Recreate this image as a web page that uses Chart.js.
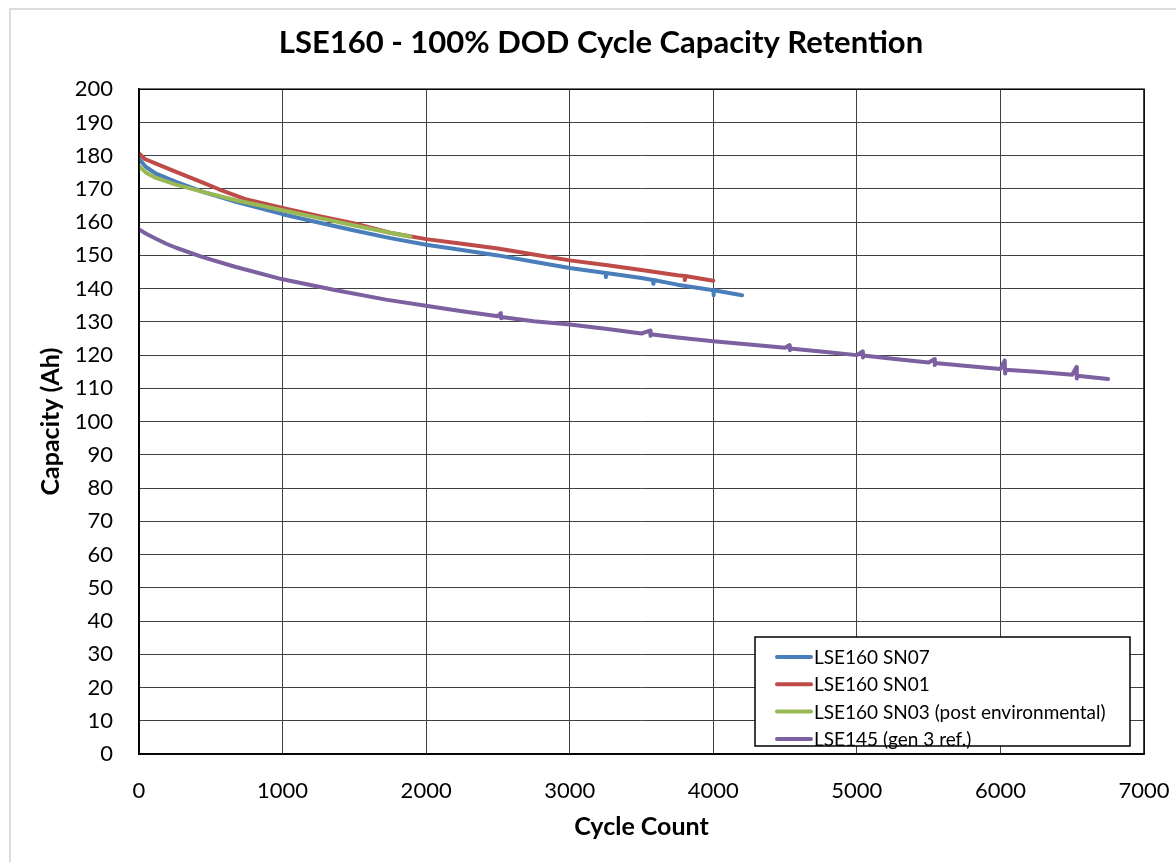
<!DOCTYPE html>
<html>
<head>
<meta charset="utf-8">
<script src="https://cdn.jsdelivr.net/npm/chart.js@4/dist/chart.umd.min.js"></script>
<style>
  html, body { margin: 0; padding: 0; background: #fff; }
  #wrap { position: relative; width: 1176px; height: 862px; }
  #frame { position: absolute; left: 9px; top: 8px; right: -4px; bottom: -4px; border-left: 2px solid #dcdcdc; border-top: 2px solid #dcdcdc; pointer-events: none; }
  canvas { position: absolute; left: 0; top: 0; }
</style>
</head>
<body>
<div id="wrap">
  <canvas id="c" width="1176" height="862"></canvas>
  <div id="frame"></div>
</div>
<script>
// ---- data ----
const titleText = "LSE160 - 100% DOD Cycle Capacity Retention";
const xAxisTitle = "Cycle Count";
const yAxisTitle = "Capacity (Ah)";
const seriesNames = ["LSE160 SN07", "LSE160 SN01", "LSE160 SN03 (post environmental)", "LSE145 (gen 3 ref.)"];

const sn07Cycles = [0, 49, 118, 258, 445, 675, 1000, 1250, 1500, 1750, 2000, 2250, 2500, 2750, 3000, 3250, 3252, 3254, 3500, 3580, 3582, 3584, 3750, 4000, 4002, 4004, 4200];
const sn07Cap    = [179, 176.6, 174.6, 172.1, 169.1, 166.1, 162.4, 159.9, 157.5, 155.2, 153.2, 151.6, 150, 148.1, 146.2, 144.7, 143.5, 144.7, 143.2, 142.6, 141.5, 142.6, 141.2, 139.5, 138, 139.5, 138];

const sn01Cycles = [0, 40, 118, 258, 445, 557, 750, 1000, 1250, 1500, 1750, 2000, 2250, 2500, 2750, 3000, 3250, 3500, 3750, 3800, 3802, 3804, 4000];
const sn01Cap    = [180.7, 179, 177.6, 175.1, 171.9, 169.9, 166.8, 164.3, 161.9, 159.6, 156.8, 154.9, 153.5, 152.1, 150.3, 148.5, 147.1, 145.6, 144, 143.8, 142.6, 143.8, 142.4];

const sn03Cycles = [0, 49, 118, 258, 445, 675, 1000, 1250, 1500, 1750, 1890];
const sn03Cap    = [176.9, 174.9, 173.3, 171.3, 169.1, 166.6, 163.6, 161.3, 159.0, 156.8, 155.6];

const lse145Cycles = [0, 50, 118, 190, 258, 444, 675, 1000, 1372, 1720, 2021, 2250, 2500, 2520, 2522, 2524, 2750, 3000, 3250, 3500, 3560, 3562, 3564, 3750, 4000, 4250, 4500, 4530, 4532, 4534, 4750, 5000, 5040, 5042, 5044, 5250, 5500, 5540, 5542, 5544, 5750, 6000, 6030, 6032, 6034, 6250, 6500, 6530, 6532, 6534, 6750];
const lse145Cap    = [157.8, 156.5, 155, 153.5, 152.3, 149.5, 146.5, 142.8, 139.5, 136.7, 134.7, 133.2, 131.7, 132.6, 131.1, 131.5, 130.2, 129.2, 127.9, 126.5, 127.4, 125.8, 126.3, 125.3, 124.2, 123.2, 122.2, 123, 121.5, 122, 121.1, 120, 121.1, 119.3, 119.9, 118.9, 117.8, 118.8, 117, 117.6, 116.8, 115.8, 118.4, 114.5, 115.6, 115, 114.1, 116.4, 113, 113.8, 112.8];

const xTicks = [0, 1000, 2000, 3000, 4000, 5000, 6000, 7000];
const yTicks = [0, 10, 20, 30, 40, 50, 60, 70, 80, 90, 100, 110, 120, 130, 140, 150, 160, 170, 180, 190, 200];

const seriesColors = ["#4a7ebb", "#be4b48", "#98b954", "#7d60a0"];

// ---- build ----
function pts(xs, ys) { return xs.map((x, i) => ({ x: x, y: ys[i] })); }
const seriesData = [pts(sn07Cycles, sn07Cap), pts(sn01Cycles, sn01Cap), pts(sn03Cycles, sn03Cap), pts(lse145Cycles, lse145Cap)];
const drawOrder = [2, 3, 0, 1];

const FONT = "Lato, 'Open Sans', 'DejaVu Sans', sans-serif";

const legendPlugin = {
  id: 'boxLegend',
  afterDraw(chart) {
    const ctx = chart.ctx;
    const x0 = 755, y0 = 637, w = 375, h = 109;
    ctx.save();
    ctx.fillStyle = '#fff';
    ctx.fillRect(x0, y0, w, h);
    ctx.strokeStyle = '#000';
    ctx.lineWidth = 1.5;
    ctx.strokeRect(x0, y0, w, h);
    ctx.font = "19px " + FONT;
    ctx.textBaseline = 'middle';
    chart.data.datasets.forEach((ds, i) => {
      const cy = y0 + 20 + i * 27.3;
      ctx.strokeStyle = ds.borderColor;
      ctx.lineWidth = 4;
      ctx.lineCap = 'round';
      ctx.beginPath();
      ctx.moveTo(777, cy);
      ctx.lineTo(811, cy);
      ctx.stroke();
      ctx.fillStyle = '#000';
      ctx.fillText(ds.label, 814, cy + 1);
    });
    ctx.restore();
  }
};

new Chart(document.getElementById('c'), {
  type: 'line',
  data: {
    datasets: seriesData.map((d, i) => ({
      label: seriesNames[i],
      data: d,
      borderColor: seriesColors[i],
      backgroundColor: seriesColors[i],
      borderWidth: 4,
      borderJoinStyle: 'round',
      borderCapStyle: 'round',
      pointRadius: 0,
      tension: 0,
      fill: false,
      order: drawOrder[i]
    }))
  },
  options: {
    responsive: false,
    animation: false,
    layout: { padding: { left: 26, right: 0, top: 0, bottom: 0 } },
    plugins: {
      legend: { display: false },
      tooltip: { enabled: false },
      title: {
        display: true,
        text: titleText,
        color: '#000',
        font: { family: FONT, size: 31, weight: 'bold' },
        padding: { top: 24, bottom: 28 }
      }
    },
    scales: {
      x: {
        type: 'linear',
        min: 0, max: 7000,
        afterBuildTicks(scale) { scale.ticks = xTicks.map(v => ({ value: v })); },
        afterFit(scale) { scale.height = 108; scale.paddingLeft = 0; scale.paddingRight = 32; },
        ticks: { color: '#000', font: { family: FONT, size: 22 }, padding: 24, maxRotation: 0, callback: v => String(v) },
        grid: { color: '#404040', lineWidth: 1, drawTicks: false },
        border: { color: '#000', width: 1.5 },
        title: { display: true, text: xAxisTitle, color: '#000', font: { family: FONT, size: 25, weight: 'bold' }, padding: { top: 0, bottom: 20 } }
      },
      y: {
        type: 'linear',
        min: 0, max: 200,
        afterBuildTicks(scale) { scale.ticks = yTicks.map(v => ({ value: v })); },
        afterFit(scale) { scale.width = 113; scale.paddingTop = 0; scale.paddingBottom = 0; },
        ticks: { color: '#000', font: { family: FONT, size: 22 }, padding: 26, callback: v => String(v) },
        grid: { color: '#404040', lineWidth: 1, drawTicks: false },
        border: { color: '#000', width: 1.5 },
        title: { display: true, text: yAxisTitle, color: '#000', font: { family: FONT, size: 25, weight: 'bold' }, padding: { top: 10, bottom: 0 } }
      }
    }
  },
  plugins: [legendPlugin, {
    id: 'plotBorder',
    afterDraw(chart) {
      const a = chart.chartArea, ctx = chart.ctx;
      ctx.save();
      ctx.strokeStyle = '#000';
      ctx.lineWidth = 1.5;
      ctx.strokeRect(a.left, a.top, a.right - a.left, a.bottom - a.top);
      ctx.restore();
    }
  }]
});
</script>
</body>
</html>
